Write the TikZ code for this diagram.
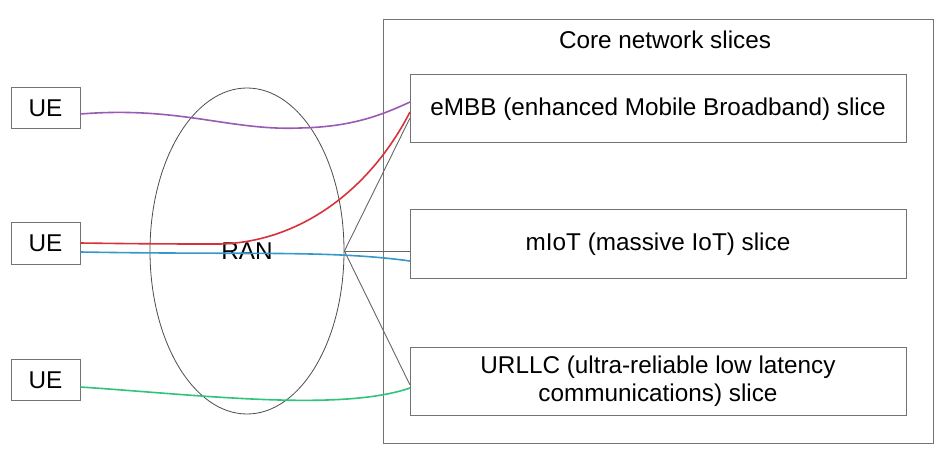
\documentclass[tikz,border=0pt]{standalone}
\usepackage{fontspec}
\setmainfont{Liberation Sans}
\usetikzlibrary{shapes.geometric}

\begin{document}
\begin{tikzpicture}[x=1pt,y=-1pt,line width=1pt,font=\fontsize{24.3}{28}\selectfont]
    \tikzstyle{box}=[draw=black!55,rectangle,inner sep=0pt]
    \tikzstyle{ue}=[box,minimum width=69pt,minimum height=41pt]
    \tikzstyle{slice}=[box,minimum width=496pt,minimum height=68pt,align=center]
    \tikzstyle{link}=[draw=black!60,line width=0.9pt]
    \tikzstyle{flow}=[line width=1.6pt]
    \useasboundingbox (0,0) rectangle (941,454);
    % Draw the core network frame
    \node[box,minimum width=550pt,minimum height=423pt] (core) at (658,231.5) {};
    \node (title) at (665,40) {Core network slices};
    % Draw the slice nodes
    \node[slice] (embb) at (658,109) {eMBB (enhanced Mobile Broadband) slice};
    \node[slice] (miot) at (658,244) {mIoT (massive IoT) slice};
    \node[slice] (urllc) at (658,381) {URLLC (ultra-reliable low latency\\communications) slice};
    % Draw the UE nodes
    \foreach \name / \y in {1/108, 2/243.5, 3/380}
        \node[ue] (ue\name) at (45.5,\y) {UE};
    % Draw the RAN
    \node[ellipse,draw=black!70,line width=0.8pt,minimum width=194pt,minimum height=326pt,inner sep=0pt] (ran) at (247,251) {RAN};
    \coordinate (hub) at (ran.east);
    % end points on the slices
    \coordinate (e1) at (410,102);
    \coordinate (e2) at (410,112);
    \coordinate (e3) at (410,118);
    \coordinate (m1) at (410,251);
    \coordinate (m2) at (410,261);
    \coordinate (u1) at (410,385);
    \coordinate (u2) at (410,388);
    % connect RAN with the slices
    \foreach \dest in {e3,m1,u1}
        \path[link] (hub) -- (\dest);
    % Draw the UE flows
    \draw[flow,color={rgb,255:red,155;green,89;blue,182}] (ue1.east |- 0,114) .. controls (180,106) and (230,131) .. (300,128) .. controls (350,127) and (380,116) .. (e1);
    \draw[flow,color={rgb,255:red,214;green,50;blue,58}] (ue2.east |- 0,243) .. controls (150,244) and (180,244) .. (220,244) .. controls (300,242) and (370,190) .. (e2);
    \draw[flow,color={rgb,255:red,52;green,152;blue,204}] (ue2.east |- 0,252) .. controls (250,255) and (330,250) .. (m2);
    \draw[flow,color={rgb,255:red,46;green,196;blue,122}] (ue3.east |- 0,387) .. controls (200,395) and (340,412) .. (u2);
\end{tikzpicture}
\end{document}
